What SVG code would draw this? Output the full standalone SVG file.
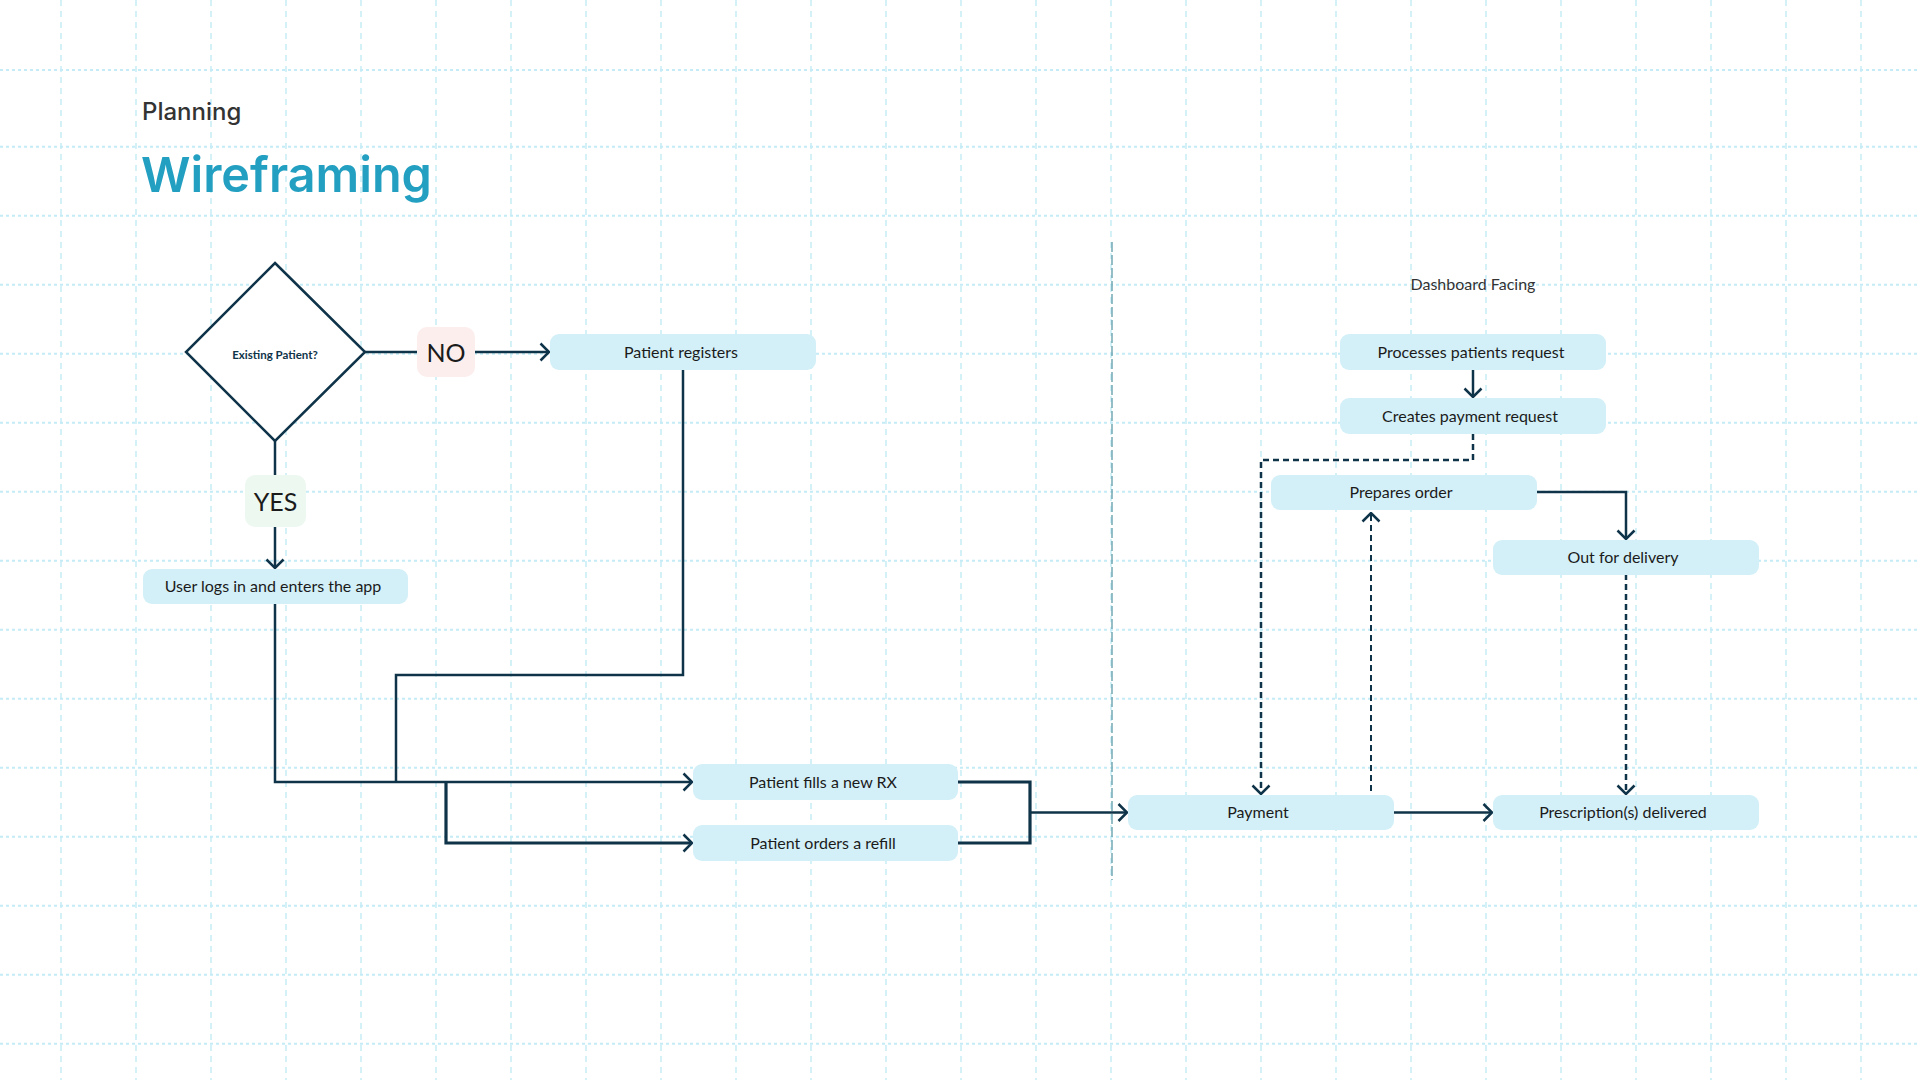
<svg xmlns="http://www.w3.org/2000/svg" width="1920" height="1080" viewBox="0 0 1920 1080">
<defs>
<style>
.gv{stroke:#c4ebf6;stroke-width:1.4;stroke-dasharray:6 5;fill:none}
.gh{stroke:#c4ebf6;stroke-width:2;stroke-dasharray:3 3;fill:none}
.box{fill:#d3f0f8}
.lbl{font-family:Lato,"Open Sans",sans-serif;font-size:16px;fill:#1b1b1b;text-anchor:middle;dominant-baseline:central}
.ln{stroke:#0f3449;stroke-width:2.5;fill:none}
.thick{stroke-width:3.2}
.dash{stroke-dasharray:6 4}
</style>
<marker id="ar" viewBox="0 0 12 20" refX="10.5" refY="10" markerWidth="12" markerHeight="20" markerUnits="userSpaceOnUse" orient="auto">
<path d="M2,1.5 L10.5,10 L2,18.5" fill="none" stroke="#0f3449" stroke-width="2.5"/>
</marker>
</defs>
<rect width="1920" height="1080" fill="#ffffff"/>
<g id="grid">
<path class="gv" d="M61,0V1080M136,0V1080M211,0V1080M286,0V1080M361,0V1080M436,0V1080M511,0V1080M586,0V1080M661,0V1080M736,0V1080M811,0V1080M886,0V1080M961,0V1080M1036,0V1080M1111,0V1080M1186,0V1080M1261,0V1080M1336,0V1080M1411,0V1080M1486,0V1080M1561,0V1080M1636,0V1080M1711,0V1080M1786,0V1080M1861,0V1080"/>
<path class="gh" d="M0,70H1920M0,146.7H1920M0,215.7H1920M0,284.7H1920M0,353.7H1920M0,422.7H1920M0,491.7H1920M0,560.7H1920M0,629.7H1920M0,698.7H1920M0,767.7H1920M0,836.7H1920M0,905.7H1920M0,974.7H1920M0,1043.7H1920"/>
</g>
<g id="titles">
<text x="142" y="120" font-family="Inter,Roboto,sans-serif" font-size="24" font-weight="500" fill="#333333">Planning</text>
<text x="141" y="192" font-family="Inter,Roboto,sans-serif" font-size="48.5" font-weight="600" fill="#23a0c1">Wireframing</text>
<text x="1473" y="283" class="lbl" style="fill:#333333">Dashboard Facing</text>
</g>
<path id="divider" d="M1112,242V880" stroke="#5f9ca8" stroke-width="1.3" stroke-dasharray="10 3" fill="none"/>
<g id="connectors">
<path class="ln" d="M365,352H417"/>
<path class="ln" d="M475,352H549" marker-end="url(#ar)"/>
<path class="ln" d="M275,441V475"/>
<path class="ln" d="M275,527V568" marker-end="url(#ar)"/>
<path class="ln" d="M275,604V782H692" marker-end="url(#ar)"/>
<path class="ln" d="M683,370V675H396V782"/>
<path class="ln thick" d="M446,782V843H692" marker-end="url(#ar)"/>
<path class="ln thick" d="M957,782H1030V843H957"/>
<path class="ln" d="M1030,812.5H1127" marker-end="url(#ar)"/>
<path class="ln" d="M1473,370V397" marker-end="url(#ar)"/>
<path class="ln dash" d="M1473,434V460H1261V794" marker-end="url(#ar)"/>
<path class="ln dash" style="stroke-width:2" d="M1371,791V513" marker-end="url(#ar)"/>
<path class="ln" d="M1537,492H1626V539" marker-end="url(#ar)"/>
<path class="ln dash" d="M1626,574V794" marker-end="url(#ar)"/>
<path class="ln" d="M1393,812.5H1492" marker-end="url(#ar)"/>
</g>
<g id="decision">
<path d="M275,263L365,352L275,441L186,352Z" fill="#ffffff" stroke="#0f3449" stroke-width="2.5"/>
<text x="275" y="354" font-family="Lato,'Open Sans',sans-serif" font-size="11.5" font-weight="700" fill="#0f3449" text-anchor="middle" dominant-baseline="central">Existing Patient?</text>
</g>
<g id="no">
<rect x="417" y="327" width="58" height="50" rx="10" fill="#fdeeee"/>
<text x="446" y="352" class="lbl" style="font-size:25px">NO</text>
</g>
<g id="yes">
<rect x="245" y="475" width="61" height="52" rx="10" fill="#edf8f1"/>
<text x="275.5" y="500.5" class="lbl" style="font-size:25px">YES</text>
</g>
<g id="patient-registers"><rect class="box" x="550" y="334" width="266" height="36" rx="9"/><text class="lbl" x="681" y="351">Patient registers</text></g>
<g id="user-logs"><rect class="box" x="143" y="569" width="265" height="35" rx="9"/><text class="lbl" x="273" y="585.5">User logs in and enters the app</text></g>
<g id="patient-fills"><rect class="box" x="693" y="764" width="265" height="36" rx="9"/><text class="lbl" x="823" y="781">Patient fills a new RX</text></g>
<g id="patient-refill"><rect class="box" x="693" y="825" width="265" height="36" rx="9"/><text class="lbl" x="823" y="842">Patient orders a refill</text></g>
<g id="payment"><rect class="box" x="1128" y="795" width="266" height="35" rx="9"/><text class="lbl" x="1258" y="811.5">Payment</text></g>
<g id="prescription"><rect class="box" x="1493" y="795" width="266" height="35" rx="9"/><text class="lbl" x="1623" y="811.5">Prescription(s) delivered</text></g>
<g id="processes"><rect class="box" x="1340" y="334" width="266" height="36" rx="9"/><text class="lbl" x="1471" y="351">Processes patients request</text></g>
<g id="creates"><rect class="box" x="1340" y="398" width="266" height="36" rx="9"/><text class="lbl" x="1470" y="415">Creates payment request</text></g>
<g id="prepares"><rect class="box" x="1271" y="475" width="266" height="35" rx="9"/><text class="lbl" x="1401" y="491">Prepares order</text></g>
<g id="out-for-delivery"><rect class="box" x="1493" y="540" width="266" height="35" rx="9"/><text class="lbl" x="1623" y="556.5">Out for delivery</text></g>
</svg>
